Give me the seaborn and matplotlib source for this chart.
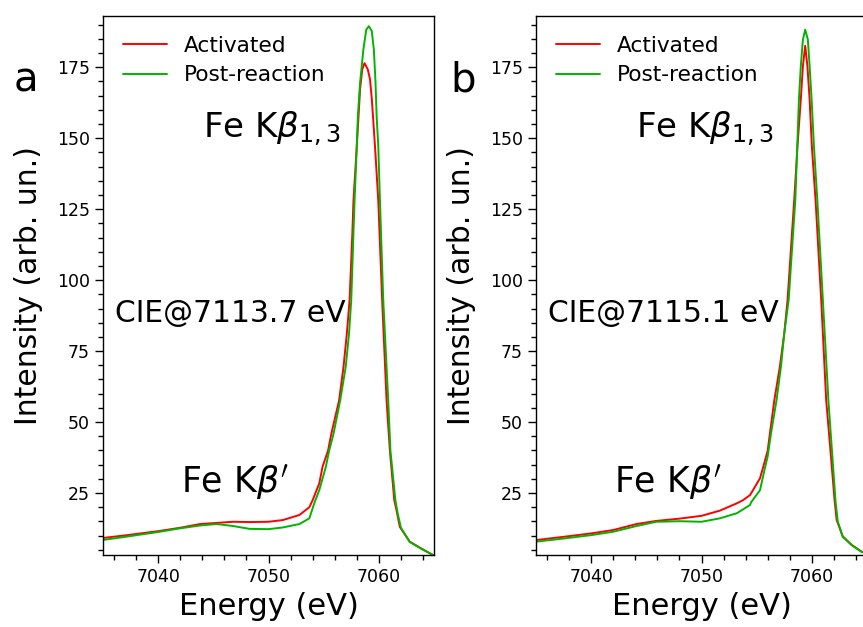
import numpy as np
import pandas as pd
import matplotlib
matplotlib.use("Agg")
import matplotlib.pyplot as plt
import seaborn as sns
from matplotlib.ticker import MultipleLocator

# ---- data ----
a_act_x = [7035.0, 7037.0, 7040.0, 7042.0, 7043.8, 7045.3, 7046.8, 7048.3, 7050.0, 7051.3,
           7052.8, 7053.7, 7054.0, 7054.6, 7054.9, 7055.4, 7055.7, 7056.4, 7056.8, 7057.1,
           7057.35, 7057.6, 7057.7, 7058.0, 7058.3, 7058.5, 7058.7, 7059.0, 7059.2, 7059.36,
           7059.5, 7059.67, 7059.95, 7060.3, 7060.7, 7061.0, 7061.4, 7061.6, 7061.9, 7062.8,
           7063.8, 7064.9, 7065.5]
a_act_y = [9.2, 10.1, 11.6, 12.8, 14.1, 14.5, 14.9, 14.8, 14.9, 15.5,
           17.3, 20.0, 22.5, 28.4, 34.3, 40.0, 46.0, 57.7, 69.5, 81.2,
           93.0, 116.5, 128.0, 147.0, 167.2, 174.2, 176.4, 174.2, 170.7, 164.0,
           156.0, 146.0, 128.0, 93.0, 57.7, 40.0, 22.5, 19.0, 13.1, 7.9,
           5.6, 3.2, 2.8]

a_post_x = [7035.0, 7037.0, 7040.0, 7042.0, 7043.8, 7045.3, 7046.8, 7048.3, 7050.0, 7051.3,
            7052.8, 7053.7, 7054.2, 7054.6, 7055.2, 7055.5, 7055.9, 7056.5, 7057.0, 7057.3,
            7057.5, 7057.7, 7057.8, 7058.0, 7058.1, 7058.3, 7058.6, 7058.86, 7059.1, 7059.36,
            7059.55, 7059.7, 7059.8, 7059.95, 7060.1, 7060.4, 7060.85, 7061.05, 7061.5, 7061.7,
            7062.0, 7062.8, 7063.8, 7064.9, 7065.5]
a_post_y = [8.5, 9.6, 11.3, 12.6, 13.6, 14.1, 13.4, 12.4, 12.3, 12.9,
            14.1, 16.1, 22.0, 26.0, 34.3, 40.0, 46.0, 57.7, 69.5, 81.2,
            93.0, 116.5, 128.0, 147.2, 157.7, 169.5, 181.2, 188.2, 189.4, 187.7,
            181.2, 169.5, 157.7, 147.2, 128.0, 93.0, 57.7, 40.0, 22.5, 18.0,
            12.8, 7.8, 5.5, 3.2, 2.8]

b_act_x = [7035.0, 7037.5, 7040.0, 7042.0, 7044.1, 7045.9, 7048.0, 7050.0, 7051.65, 7053.2,
           7053.76, 7054.4, 7055.3, 7055.6, 7056.0, 7056.2, 7056.6, 7057.1, 7057.5, 7057.8,
           7058.2, 7058.4, 7058.7, 7059.0, 7059.19, 7059.4, 7059.6, 7059.8, 7060.0, 7060.34,
           7060.85, 7061.3, 7061.6, 7061.9, 7062.06, 7062.25, 7062.8, 7063.6, 7064.5, 7065.0]
b_act_y = [8.45, 9.6, 10.8, 12.0, 14.1, 15.2, 16.0, 17.0, 18.8, 21.4,
           22.5, 24.3, 30.2, 34.3, 40.0, 46.0, 57.7, 69.5, 81.2, 93.0,
           116.5, 128.0, 147.2, 163.6, 175.3, 182.5, 175.3, 163.6, 147.2, 128.0,
           93.0, 57.7, 44.0, 30.0, 22.5, 15.5, 9.8, 6.8, 4.4, 3.9]

b_post_x = [7035.0, 7037.5, 7040.0, 7042.0, 7044.1, 7045.9, 7048.0, 7050.0, 7051.65, 7053.2,
            7054.4, 7054.5, 7055.3, 7055.7, 7056.0, 7056.3, 7056.8, 7057.2, 7057.5, 7057.9,
            7058.3, 7058.5, 7058.68, 7058.83, 7059.0, 7059.19, 7059.4, 7059.64, 7059.8, 7059.98,
            7060.19, 7060.5, 7061.0, 7061.5, 7062.15, 7062.35, 7062.8, 7063.6, 7064.5, 7065.0]
b_post_y = [7.9, 9.0, 10.2, 11.4, 13.4, 14.9, 15.1, 14.9, 16.1, 17.9,
            20.8, 21.8, 26.0, 33.0, 38.0, 46.0, 57.7, 69.5, 81.2, 93.0,
            116.5, 128.0, 147.2, 163.6, 175.3, 184.7, 188.2, 184.7, 175.3, 163.6,
            147.2, 128.0, 93.0, 57.7, 22.0, 15.0, 9.6, 6.7, 4.3, 3.8]

series_names = ["Activated", "Post-reaction"]
panel_letters = ["a", "b"]
cie_labels = ["CIE@7113.7 eV", "CIE@7115.1 eV"]

sns.set_style("ticks")
plt.rcParams['font.family'] = ['DejaVu Sans']
plt.rcParams.update({
    "text.color": "black",
    "axes.labelcolor": "black",
    "axes.edgecolor": "black",
    "xtick.color": "black",
    "ytick.color": "black",
})

palette = {"Activated": "#ff0000", "Post-reaction": "#00b400"}

def make_df(ax_x, ay, px, py):
    return pd.concat([
        pd.DataFrame({"Energy": ax_x, "Intensity": ay, "Sample": series_names[0]}),
        pd.DataFrame({"Energy": px, "Intensity": py, "Sample": series_names[1]}),
    ], ignore_index=True)

dfs = [make_df(a_act_x, a_act_y, a_post_x, a_post_y),
       make_df(b_act_x, b_act_y, b_post_x, b_post_y)]

W, H = 863, 627
fig = plt.figure(figsize=(W / 100, H / 100), dpi=100)
axes_px = [(103, 16, 434, 555), (536, 16, 867, 555)]
letter_px = [(14, 80), (450, 80)]

for i, (df, (l, t, r, b)) in enumerate(zip(dfs, axes_px)):
    ax = fig.add_axes([l / W, 1 - b / H, (r - l) / W, (b - t) / H])
    sns.lineplot(data=df, x="Energy", y="Intensity", hue="Sample", palette=palette,
                 sort=False, estimator=None, linewidth=1.4, ax=ax)
    ax.set_xlim(7035, 7065)
    ax.set_ylim(3.2, 193)
    ax.xaxis.set_major_locator(MultipleLocator(10))
    ax.xaxis.set_minor_locator(MultipleLocator(2))
    ax.yaxis.set_major_locator(MultipleLocator(25))
    ax.yaxis.set_minor_locator(MultipleLocator(5))
    ax.tick_params(which='major', direction='out', length=6, width=1, labelsize=12.5)
    ax.tick_params(which='minor', direction='out', length=3.5, width=1)
    for s in ax.spines.values():
        s.set_visible(True)
        s.set_linewidth(1.0)
    ax.set_xlabel("Energy (eV)", fontsize=22)
    ax.set_ylabel("Intensity (arb. un.)", fontsize=21.5, labelpad=10)
    ax.legend(loc="upper left", frameon=False, fontsize=15.6, handlelength=2.05,
              bbox_to_anchor=(0.0, 1.0), borderaxespad=0.5, labelspacing=0.45)
    ax.text(7044.05, 153.5, r"Fe K$\beta_{1,3}$", fontsize=24.5, va="center", ha="left")
    ax.text(7036.1, 88.4, cie_labels[i], fontsize=21.4, va="center", ha="left")
    ax.text(7042.1, 28.9, r"Fe K$\beta'$", fontsize=25, va="center", ha="left")
    fig.text(letter_px[i][0] / W, 1 - letter_px[i][1] / H, panel_letters[i],
             fontsize=29, va="center", ha="left")

fig.savefig("out.png", dpi=100)
